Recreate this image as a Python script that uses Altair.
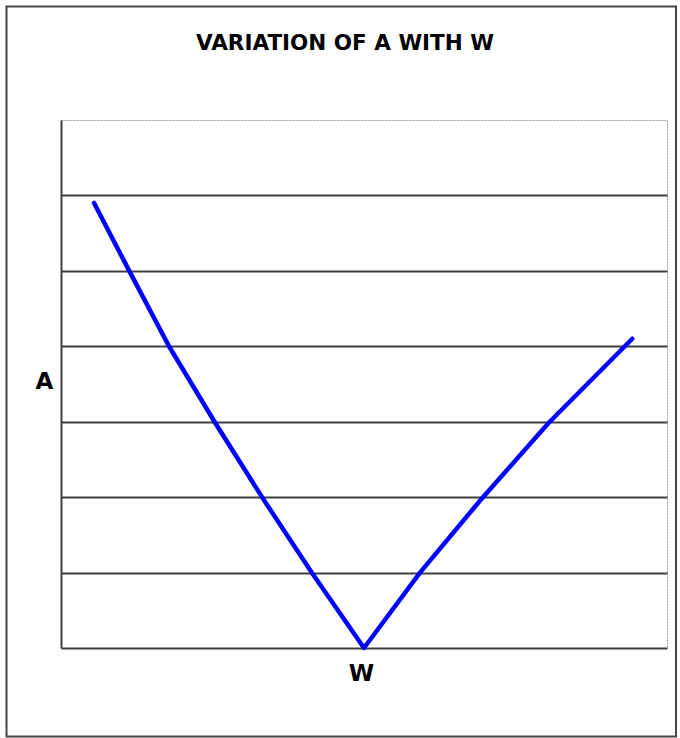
import altair as alt
import pandas as pd

# Curve of A against W (W on a 0-100 scale, A on a 0-7 scale)
w_values = [5.45, 11.39, 17.82, 25.41, 33.33, 41.37, 50.0, 59.24, 69.42, 80.53, 94.27]
a_values = [5.90, 4.98, 4.00, 2.99, 1.98, 1.00, 0.0, 1.00, 1.98, 2.99, 4.10]

# Horizontal grid levels on the A axis
grid_levels = [1, 2, 3, 4, 5, 6]

chart_title = "VARIATION OF A WITH W"
x_title = "W"
y_title = "A"

FONT = "DejaVu Sans"
GRID = "#404040"

curve = pd.DataFrame({"W": w_values, "A": a_values})

x_scale = alt.Scale(domain=[0, 100], nice=False, zero=False)
y_scale = alt.Scale(domain=[0, 7], nice=False)

x_axis = alt.Axis(
    grid=False, ticks=False, labels=False,
    domain=True, domainColor=GRID, domainWidth=2,
    title=x_title, titleFont=FONT, titleFontSize=23, titleFontWeight="bold",
    titleColor="black", titleX=300, titleY=32,
    titleAlign="center", titleBaseline="alphabetic",
)
y_axis = alt.Axis(
    values=grid_levels, grid=True, gridColor=GRID, gridWidth=2, gridOpacity=1,
    ticks=False, labels=False,
    domain=True, domainColor=GRID, domainWidth=2,
    title=y_title, titleFont=FONT, titleFontSize=23, titleFontWeight="bold",
    titleColor="black", titleAngle=0, titleX=-17, titleY=268,
    titleAlign="center", titleBaseline="alphabetic",
)

# Outer frame around the whole figure
frame = alt.Chart(pd.DataFrame({"k": [0]})).mark_rect(
    fill="transparent", stroke="#444444", strokeWidth=2
).encode(
    x=alt.value(-54.5), x2=alt.value(615),
    y=alt.value(-113.5), y2=alt.value(616.5),
)

line = alt.Chart(curve).mark_line(
    color="#0000ff", strokeWidth=4.5, strokeCap="round", strokeJoin="round"
).encode(
    x=alt.X("W:Q", scale=x_scale, axis=x_axis),
    y=alt.Y("A:Q", scale=y_scale, axis=y_axis),
)

heading = alt.Chart(pd.DataFrame({"t": [chart_title]})).mark_text(
    font=FONT, fontSize=21.5, fontWeight="bold", color="black",
    align="center", baseline="alphabetic",
).encode(
    text="t:N", x=alt.value(284), y=alt.value(-70),
)

chart = alt.layer(frame, line, heading).properties(
    width=606,
    height=528,
    padding={"left": 61, "top": 120, "right": 13, "bottom": 90},
    autosize=alt.AutoSizeParams(type="none"),
    background="white",
).configure_view(
    stroke="#9a9a9a", strokeDash=[2, 1], strokeWidth=1
)

chart.save("out.html", embed_options={"renderer": "svg", "actions": False})
